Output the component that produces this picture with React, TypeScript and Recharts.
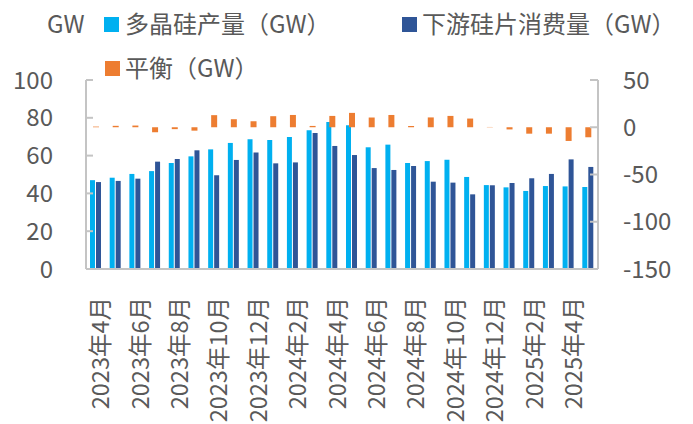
import React from 'react';
import { ComposedChart, Bar, XAxis, YAxis } from 'recharts';

const months = [
  '2023年4月', '2023年5月', '2023年6月', '2023年7月', '2023年8月', '2023年9月',
  '2023年10月', '2023年11月', '2023年12月', '2024年1月', '2024年2月', '2024年3月',
  '2024年4月', '2024年5月', '2024年6月', '2024年7月', '2024年8月', '2024年9月',
  '2024年10月', '2024年11月', '2024年12月', '2025年1月', '2025年2月', '2025年3月',
  '2025年4月', '2025年5月',
];
const polysilicon = [47, 48.3, 50.3, 51.8, 56.1, 59.6, 63.3, 66.7, 68.6, 68.3, 69.8, 73.4, 77.8, 76, 64.4, 65.8, 56.1, 57.1, 57.8, 48.7, 44.4, 43.2, 41.3, 43.9, 43.7, 43.4];
const waferUse = [46, 46.6, 47.8, 56.8, 58.2, 62.8, 49.6, 57.7, 61.6, 55.9, 56.4, 71.9, 65.1, 60.3, 53.4, 52.4, 54.5, 46.2, 45.7, 39.5, 44.3, 45.5, 48.0, 50.3, 58.0, 54.0];
const balance = [0.7, 1.5, 1.8, -5.3, -2, -3.6, 12.8, 8.5, 6.4, 11.7, 13, 1.4, 12, 15.2, 10.3, 13, 1.3, 10.4, 12, 9.2, 0.3, -2.3, -6.8, -6.8, -14.5, -10.6];
const leftTicks = [0, 20, 40, 60, 80, 100];
const rightTicks = [-150, -100, -50, 0, 50];

const data = months.map((m, i) => ({ month: m, p: polysilicon[i], w: waferUse[i], b: balance[i] }));

const FONT = '"Noto Sans CJK SC", "Noto Sans", sans-serif';
const TXT = '#595959';
const AX = '#c4c4c4';

const XTick = (props: any) => {
  const { x, y, payload } = props;
  return (
    <g transform={`translate(${x + 5},${y + 22})`}>
      <text x={0} y={0} transform="rotate(-90)" textAnchor="end" dy="0.36em" fill={TXT} fontSize={23.5} fontFamily={FONT}>
        {payload.value}
      </text>
    </g>
  );
};

export default function App() {
  return (
    <div style={{ position: 'absolute', left: 0, top: 0, width: 693, height: 424, background: '#fff' }}>
      <ComposedChart width={693} height={424} data={data} margin={{ top: 80, right: 0, bottom: 0, left: 0 }} barGap={1}>
        <XAxis xAxisId="a" dataKey="month" height={155} interval={1} tickLine={false} tickMargin={0}
          axisLine={{ stroke: AX, strokeWidth: 2 }} tick={<XTick />} />
        <XAxis xAxisId="b" dataKey="month" hide />
        <YAxis yAxisId="l" orientation="left" width={86} domain={[0, 100]} ticks={leftTicks} interval={0}
          axisLine={{ stroke: AX, strokeWidth: 2 }} tickLine={{ stroke: AX, strokeWidth: 2 }} tickSize={-7} tickMargin={40}
          tick={{ fill: TXT, fontSize: 24, fontFamily: FONT }} />
        <YAxis yAxisId="r" orientation="right" width={95} domain={[-150, 50]} ticks={rightTicks} interval={0}
          axisLine={{ stroke: AX, strokeWidth: 2 }} tickLine={{ stroke: AX, strokeWidth: 2 }} tickSize={-8} tickMargin={33}
          tick={{ fill: TXT, fontSize: 24, fontFamily: FONT }} />
        <Bar xAxisId="a" yAxisId="l" dataKey="p" fill="#00B0F0" barSize={5} isAnimationActive={false} />
        <Bar xAxisId="a" yAxisId="l" dataKey="w" fill="#2F5597" barSize={5} isAnimationActive={false} />
        <Bar xAxisId="b" yAxisId="r" dataKey="b" fill="#ED7D31" barSize={6} isAnimationActive={false} />
      </ComposedChart>
      <svg width={693} height={90} style={{ position: 'absolute', left: 0, top: 0, pointerEvents: 'none' }}>
        <g fontFamily={FONT} fontSize={24} fill={TXT}>
          <text x={47} y={33}>GW</text>
          <rect x={104} y={17} width={15} height={15} fill="#00B0F0" />
          <text x={125} y={33}>多晶硅产量（GW）</text>
          <rect x={402} y={17} width={15} height={15} fill="#2F5597" />
          <text x={422} y={33}>下游硅片消费量（GW）</text>
          <rect x={105} y={61} width={15} height={15} fill="#ED7D31" />
          <text x={125} y={77}>平衡（GW）</text>
        </g>
      </svg>
    </div>
  );
}
